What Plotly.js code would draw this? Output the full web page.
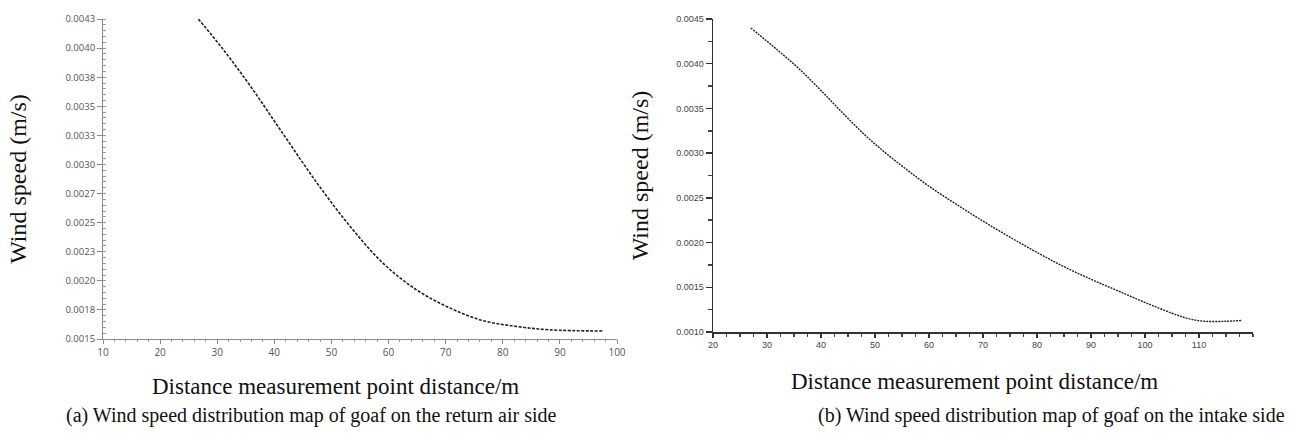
<!DOCTYPE html>
<html>
<head>
<meta charset="utf-8">
<script src="https://cdn.plot.ly/plotly-3.0.1.min.js"></script>
<style>html,body{margin:0;padding:0;background:#fff;}#chart{width:1298px;height:440px;}</style>
</head>
<body>
<div id="chart"></div>
<script>
// ---- Data ----
// (a) return air side
const returnDist  = [26.7, 31.1, 35.7, 41.6, 47.4, 53.2, 59.1, 64.9, 70.8, 76.6, 82.4, 88.3, 97.7];
const returnSpeed = [0.00430, 0.00403, 0.00372, 0.00329, 0.00287, 0.00249, 0.00216, 0.00193, 0.00177, 0.00166, 0.00161, 0.00158, 0.00157];
const returnYTickLabels = ["0.0015","0.0018","0.0020","0.0023","0.0025","0.0027","0.0030","0.0033","0.0035","0.0038","0.0040","0.0043"];
const returnXTicks = [10, 20, 30, 40, 50, 60, 70, 80, 90, 100];

// (b) intake side
const intakeDist  = [27, 32, 36, 40, 44, 48, 52, 56, 60, 65, 70, 75, 80, 85, 90, 95, 100, 105, 108, 111, 115, 118];
const intakeSpeed = [0.00440, 0.00415, 0.00394, 0.00370, 0.00345, 0.00321, 0.00300, 0.00281, 0.00263, 0.00243, 0.00224, 0.00206, 0.00189, 0.00173, 0.00159, 0.00146, 0.00133, 0.00121, 0.00115, 0.00112, 0.00112, 0.00113];
const intakeYTicks = [0.0010, 0.0015, 0.0020, 0.0025, 0.0030, 0.0035, 0.0040, 0.0045];
const intakeYTickLabels = ["0.0010","0.0015","0.0020","0.0025","0.0030","0.0035","0.0040","0.0045"];
const intakeXTicks = [20, 30, 40, 50, 60, 70, 80, 90, 100, 110];

const yTitle = "Wind speed (m/s)";
const xTitle = "Distance measurement point distance/m";
const captionA = "(a) Wind speed distribution map of goaf on the return air side";
const captionB = "(b) Wind speed distribution map of goaf on the intake side";

// ---- Layout helpers ----
const W = 1298, H = 440;
const px = v => v / W;
const py = v => (H - v) / H;

// evenly spaced major tick positions for left y axis
const yMinA = 0.0015, yMaxA = 0.0043;
const returnYTicks = returnYTickLabels.map((_, i) => yMinA + (yMaxA - yMinA) * i / (returnYTickLabels.length - 1));

const serif = "Liberation Serif, Times New Roman, serif";

const traces = [
  {x: returnDist, y: returnSpeed, xaxis: 'x', yaxis: 'y', mode: 'lines', type: 'scatter',
   line: {color: '#222', width: 1.6, dash: '3px,1.5px', shape: 'spline', smoothing: 1}, hoverinfo: 'x+y'},
  {x: intakeDist, y: intakeSpeed, xaxis: 'x2', yaxis: 'y2', mode: 'lines', type: 'scatter',
   line: {color: '#222', width: 1.4, dash: '2px,1px', shape: 'spline', smoothing: 1}, hoverinfo: 'x+y'}
];

const layout = {
  width: W, height: H,
  margin: {l: 0, r: 0, t: 0, b: 0},
  paper_bgcolor: '#fff', plot_bgcolor: '#fff',
  showlegend: false,
  xaxis: {
    domain: [px(103), px(617)], anchor: 'y', range: [10, 100],
    tickmode: 'array', tickvals: returnXTicks, ticktext: returnXTicks.map(String),
    showgrid: false, zeroline: false, showline: true, linecolor: '#8a8a8a', linewidth: 1,
    ticks: 'outside', ticklen: 4, tickcolor: '#8a8a8a', tickwidth: 1,
    minor: {dtick: 2, tick0: 10, ticks: 'outside', ticklen: 2, tickcolor: '#999'},
    tickfont: {family: 'Open Sans, DejaVu Sans, sans-serif', size: 10, color: '#555'},
    automargin: false
  },
  yaxis: {
    domain: [py(339), py(19)], anchor: 'x', range: [yMinA, yMaxA],
    tickmode: 'array', tickvals: returnYTicks, ticktext: returnYTickLabels,
    showgrid: false, zeroline: false, showline: true, linecolor: '#8a8a8a', linewidth: 1,
    ticks: 'outside', ticklen: 5, tickcolor: '#8a8a8a', tickwidth: 1,
    minor: {dtick: (yMaxA - yMinA) / 55, tick0: yMinA, ticks: 'inside', ticklen: 3, tickcolor: '#999'},
    tickfont: {family: 'Open Sans, DejaVu Sans, sans-serif', size: 9.5, color: '#555'},
    automargin: false,
    title: {text: yTitle, font: {family: serif, size: 24, color: '#111'}, standoff: 32}
  },
  xaxis2: {
    domain: [px(713), px(1253)], anchor: 'y2', range: [20, 120],
    tickmode: 'array', tickvals: intakeXTicks, ticktext: intakeXTicks.map(String),
    showgrid: false, zeroline: false, showline: true, linecolor: '#333', linewidth: 1.5,
    ticks: 'outside', ticklen: 4, tickcolor: '#333', tickwidth: 1.5,
    minor: {dtick: 2.5, tick0: 20, ticks: 'outside', ticklen: 3, tickcolor: '#444'},
    tickfont: {family: 'Liberation Sans Narrow, Liberation Sans, Arial, sans-serif', size: 9, color: '#444'},
    automargin: false
  },
  yaxis2: {
    domain: [py(332), py(19)], anchor: 'x2', range: [0.0010, 0.0045],
    tickmode: 'array', tickvals: intakeYTicks, ticktext: intakeYTickLabels,
    showgrid: false, zeroline: false, showline: true, linecolor: '#333', linewidth: 1.5,
    ticks: 'outside', ticklen: 6, tickcolor: '#333', tickwidth: 1.5,
    minor: {dtick: 0.00025, tick0: 0.0010, ticks: 'outside', ticklen: 4, tickcolor: '#444'},
    tickfont: {family: 'Liberation Sans Narrow, Liberation Sans, Arial, sans-serif', size: 9, color: '#444'},
    automargin: false,
    title: {text: yTitle, font: {family: serif, size: 24, color: '#111'}, standoff: 21}
  },
  annotations: [
    {text: xTitle, xref: 'paper', yref: 'paper', x: px(335), y: py(386), xanchor: 'center', yanchor: 'middle',
     showarrow: false, font: {family: serif, size: 23, color: '#111'}},
    {text: xTitle, xref: 'paper', yref: 'paper', x: px(974), y: py(381), xanchor: 'center', yanchor: 'middle',
     showarrow: false, font: {family: serif, size: 23, color: '#111'}},
    {text: captionA, xref: 'paper', yref: 'paper', x: px(311), y: py(415), xanchor: 'center', yanchor: 'middle',
     showarrow: false, font: {family: serif, size: 20, color: '#111'}},
    {text: captionB, xref: 'paper', yref: 'paper', x: px(1051), y: py(415), xanchor: 'center', yanchor: 'middle',
     showarrow: false, font: {family: serif, size: 20, color: '#111'}}
  ]
};

Plotly.newPlot('chart', traces, layout, {displayModeBar: false, staticPlot: true});
</script>
</body>
</html>
